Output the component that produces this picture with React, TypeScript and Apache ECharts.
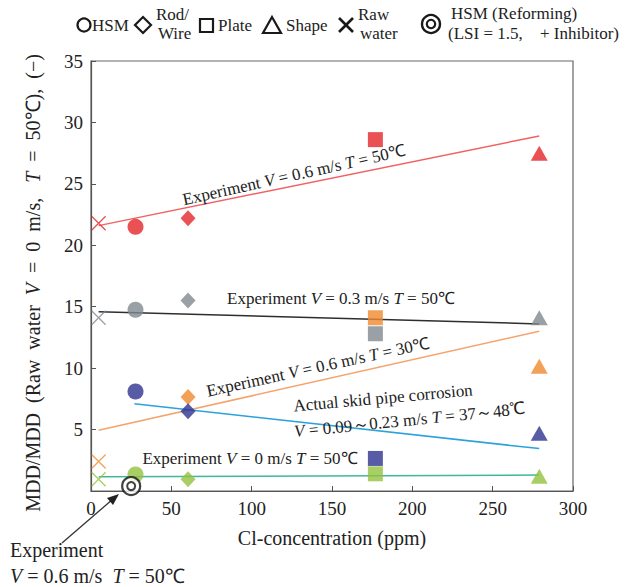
import React, { useEffect, useRef } from 'react';
import * as echarts from 'echarts';

const FONT = '"Liberation Serif", "Times New Roman", serif';

// sample types (x positions in ppm)
const sampleTypes = ['Raw water', 'HSM', 'Rod/Wire', 'Plate', 'Shape'];
const sampleX = [4.75, 27.7, 60.4, 177, 279];

// MDD ratio per condition, one value per sample type (null = not shown)
const redY = [21.8, 21.5, 22.2, 28.6, 27.5];      // Experiment V=0.6 T=50
const grayY = [14.1, 14.75, 15.5, 12.8, 14.1];    // Experiment V=0.3 T=50
const orangeY = [2.4, null, 7.65, 14.1, 10.15];   // Experiment V=0.6 T=30
const blueY = [null, 8.1, 6.5, 2.65, 4.7];        // Actual skid pipe
const greenY = [0.95, 1.35, 0.95, 1.4, 1.2];      // Experiment V=0 T=50

// HSM reforming point
const reformX = [25];
const reformY = [0.4];

// trend lines (x, y endpoints)
const redLineX = [4.75, 279];
const redLineY = [21.6, 28.9];
const grayLineX = [4.75, 279];
const grayLineY = [14.6, 13.6];
const orangeLineX = [4.75, 279];
const orangeLineY = [4.95, 13.0];
const blueLineX = [27, 279];
const blueLineY = [7.1, 3.45];
const greenLineX = [4.75, 279];
const greenLineY = [1.15, 1.3];

const xTicks = [0, 50, 100, 150, 200, 250, 300];
const yTicks = [0, 5, 10, 15, 20, 25, 30, 35];

const CROSS = 'path://M0,0L10,10M10,0L0,10';
const symbolFor: Record<string, string> = {
  'Raw water': CROSS,
  HSM: 'circle',
  'Rod/Wire': 'diamond',
  Plate: 'rect',
  Shape: 'triangle',
};
const sizeFor: Record<string, number | number[]> = {
  'Raw water': 14,
  HSM: 16,
  'Rod/Wire': [15, 16],
  Plate: 15,
  Shape: [17, 15],
};

function points(ys: (number | null)[], color: string) {
  const out: any[] = [];
  sampleTypes.forEach((t, i) => {
    const y = ys[i];
    if (y == null) return;
    out.push({
      value: [sampleX[i], y],
      symbol: symbolFor[t],
      symbolSize: sizeFor[t],
      itemStyle:
        t === 'Raw water'
          ? { color: 'rgba(0,0,0,0)', borderColor: color, borderWidth: 1.3 }
          : { color },
    });
  });
  return out;
}

function lineSeries(xs: number[], ys: number[], color: string) {
  return {
    type: 'line',
    data: xs.map((x, i) => [x, ys[i]]),
    symbol: 'none',
    lineStyle: { color, width: 1.5 },
    z: 2,
    silent: true,
  };
}

function scatterSeries(data: any[]) {
  return { type: 'scatter', data, z: 5, silent: true };
}

function annot(x: number, y: number, text: string, rot: number, size = 17) {
  return {
    type: 'text',
    x,
    y,
    rotation: rot,
    z: 20,
    style: {
      text,
      fontFamily: FONT,
      fontSize: size,
      fill: '#222',
      align: 'center',
      verticalAlign: 'middle',
      rich: {
        i: { fontStyle: 'italic', fontFamily: FONT, fontSize: size, fill: '#222' },
      },
    },
  };
}

function leftText(x: number, y: number, text: string, size = 17) {
  return {
    type: 'text',
    x,
    y,
    z: 20,
    style: {
      text,
      fontFamily: FONT,
      fontSize: size,
      fill: '#222',
      align: 'left',
      verticalAlign: 'middle',
      rich: {
        i: { fontStyle: 'italic', fontFamily: FONT, fontSize: size, fill: '#222' },
      },
    },
  };
}

const K = '#1a1a1a';
const legendGraphics = [
  { type: 'circle', shape: { cx: 84, cy: 25, r: 6.5 }, style: { fill: 'none', stroke: K, lineWidth: 2.2 } },
  leftText(92, 25, 'HSM'),
  { type: 'polygon', shape: { points: [[143, 17], [151, 25], [143, 33], [135, 25]] }, style: { fill: 'none', stroke: K, lineWidth: 2.2 } },
  leftText(156, 14, 'Rod/'),
  leftText(158, 33, 'Wire'),
  { type: 'rect', shape: { x: 200, y: 19, width: 13, height: 13 }, style: { fill: 'none', stroke: K, lineWidth: 2.2 } },
  leftText(218, 25, 'Plate'),
  { type: 'polygon', shape: { points: [[272, 17], [281, 33], [263, 33]] }, style: { fill: 'none', stroke: K, lineWidth: 2.2 } },
  leftText(286, 25, 'Shape'),
  { type: 'line', shape: { x1: 339, y1: 18, x2: 353, y2: 32 }, style: { stroke: K, lineWidth: 2.6 } },
  { type: 'line', shape: { x1: 353, y1: 18, x2: 339, y2: 32 }, style: { stroke: K, lineWidth: 2.6 } },
  leftText(358, 14, 'Raw'),
  leftText(360, 33, 'water'),
  { type: 'circle', shape: { cx: 431, cy: 24, r: 9 }, style: { fill: 'none', stroke: K, lineWidth: 2.4 } },
  { type: 'circle', shape: { cx: 431, cy: 24, r: 4.2 }, style: { fill: 'none', stroke: K, lineWidth: 2.2 } },
  leftText(451, 13, 'HSM (Reforming)'),
  leftText(448, 33, '(LSI = 1.5,'),
  leftText(540, 33, '+ Inhibitor)'),
];

// Y axis title, drawn as one rotated text (reads bottom to top)
const yTitle = [
  annot(33, 283, 'MDD/MDD  (Raw  water  {i|V}  =  0  m/s,   {i|T}  =  50℃),  (−)', Math.PI / 2, 20),
];

const annotations = [
  annot(294, 175, 'Experiment {i|V} = 0.6 m/s {i|T} = 50℃', 0.22),
  annot(341, 298, 'Experiment {i|V} = 0.3 m/s {i|T} = 50℃', 0),
  annot(318, 367, 'Experiment {i|V} = 0.6 m/s {i|T} = 30℃', 0.215),
  annot(383, 398, 'Actual skid pipe corrosion', 0.09),
  annot(410, 420, '{i|V} = 0.09～0.23 m/s {i|T} = 37～48℃', 0.1),
  annot(250, 458, 'Experiment {i|V} = 0 m/s {i|T} = 50℃', 0),
  leftText(10, 550, 'Experiment', 20),
  leftText(10, 576, '{i|V} = 0.6 m/s  {i|T} = 50℃', 20),
  { type: 'line', shape: { x1: 62, y1: 543, x2: 113, y2: 499 }, style: { stroke: '#333', lineWidth: 1.3 } },
  { type: 'polygon', shape: { points: [[119, 494], [107, 498], [113, 505]] }, style: { fill: '#222' } },
];

export default function App() {
  const ref = useRef<HTMLDivElement>(null);
  useEffect(() => {
    if (!ref.current) return;
    const chart = echarts.init(ref.current, null, { renderer: 'svg' });
    chart.setOption({
      animation: false,
      backgroundColor: '#fff',
      grid: { left: 91, right: 56, top: 61, bottom: 96, show: true, borderColor: '#666', borderWidth: 1.2 },
      xAxis: {
        type: 'value',
        min: xTicks[0],
        max: xTicks[xTicks.length - 1],
        interval: 50,
        name: 'Cl-concentration (ppm)',
        nameLocation: 'middle',
        nameGap: 37,
        nameTextStyle: { fontFamily: FONT, fontSize: 20, color: '#222' },
        axisLine: { lineStyle: { color: '#555', width: 1.2 } },
        axisTick: { inside: true, length: 5, lineStyle: { color: '#555' } },
        axisLabel: { fontFamily: FONT, fontSize: 19, color: '#222', margin: 8 },
        splitLine: { show: false },
      },
      yAxis: {
        type: 'value',
        min: yTicks[0],
        max: yTicks[yTicks.length - 1],
        interval: 5,
        axisLine: { show: true, lineStyle: { color: '#555', width: 1.2 } },
        axisTick: { show: true, inside: true, length: 5, lineStyle: { color: '#555' } },
        axisLabel: {
          fontFamily: FONT,
          fontSize: 19,
          color: '#222',
          margin: 8,
          formatter: (v: number) => (v === 0 ? '' : String(v)),
        },
        splitLine: { show: false },
      },
      series: [
        lineSeries(redLineX, redLineY, '#f26262'),
        lineSeries(grayLineX, grayLineY, '#2e2e2e'),
        lineSeries(orangeLineX, orangeLineY, '#f4a46c'),
        lineSeries(blueLineX, blueLineY, '#2aa2dc'),
        lineSeries(greenLineX, greenLineY, '#3db89a'),
        scatterSeries(points(redY, '#e4252a')),
        scatterSeries(points(grayY, '#818a90')),
        scatterSeries(points(orangeY, '#f08a2e')),
        scatterSeries(points(blueY, '#2e3390')),
        scatterSeries(points(greenY, '#93c23e')),
        {
          type: 'scatter',
          data: reformX.map((x, i) => [x, reformY[i]]),
          symbol: 'circle',
          symbolSize: 18,
          itemStyle: { color: '#fff', borderColor: '#111', borderWidth: 2.2 },
          z: 6,
          silent: true,
        },
        {
          type: 'scatter',
          data: reformX.map((x, i) => [x, reformY[i]]),
          symbol: 'circle',
          symbolSize: 8,
          itemStyle: { color: '#fff', borderColor: '#111', borderWidth: 2 },
          z: 7,
          silent: true,
        },
      ],
      graphic: [...legendGraphics, ...yTitle, ...annotations],
    });
    return () => chart.dispose();
  }, []);
  return <div ref={ref} style={{ position: 'fixed', left: 0, top: 0, width: 629, height: 587 }} />;
}
